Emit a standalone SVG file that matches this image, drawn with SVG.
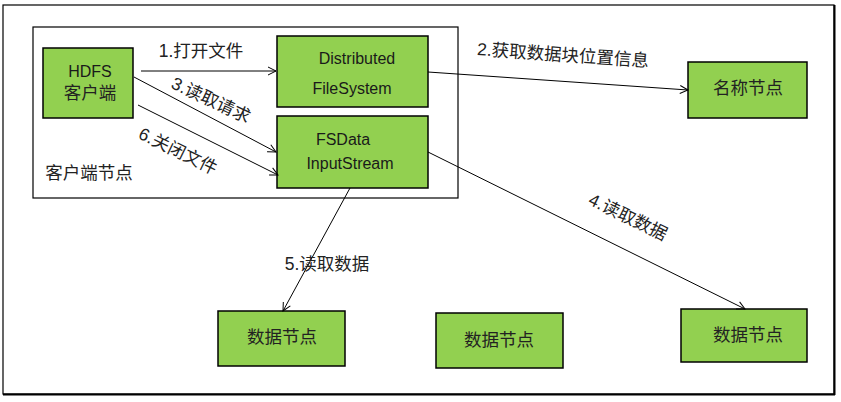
<svg xmlns="http://www.w3.org/2000/svg" width="841" height="402" viewBox="0 0 841 402">
<style>
.box{fill:#92D050;stroke:#000;stroke-width:1.5}
.frame{fill:none;stroke:#000;stroke-width:1.2}
.t{font-family:"Liberation Sans","Noto Sans CJK SC",sans-serif;font-size:16px;fill:#1a1a1a;text-anchor:middle;dominant-baseline:central}
.cj{font-family:"Liberation Sans","Noto Sans CJK SC",sans-serif;font-size:17.5px;fill:#222;text-anchor:middle;dominant-baseline:central}
.c{stroke:#000;stroke-width:1;fill:none;marker-end:url(#ah)}
</style>
<defs>
<marker id="ah" markerWidth="12" markerHeight="12" refX="9" refY="5" orient="auto" markerUnits="userSpaceOnUse">
<path d="M1,1 L9,5 L1,9" fill="none" stroke="#000" stroke-width="1"/>
</marker>
</defs>
<rect width="841" height="402" fill="#fff"/>
<rect x="3" y="5" width="831" height="389" fill="#fff" stroke="#000" stroke-width="1.2"/>
<line x1="834.5" y1="5" x2="834.5" y2="395" stroke="#000" stroke-width="2"/>
<line x1="3" y1="394.5" x2="835" y2="394.5" stroke="#000" stroke-width="2"/>
<g id="client-frame">
<rect class="frame" x="33" y="27" width="425" height="171"/>
<text class="cj" x="89" y="173">客户端节点</text>
</g>
<g id="hdfs-client">
<rect class="box" x="43" y="48" width="90" height="70"/>
<text class="t" x="90" y="71">HDFS</text>
<text class="cj" x="90" y="93">客户端</text>
</g>
<g id="dfs">
<rect class="box" x="277" y="36" width="151" height="71"/>
<text class="t" x="357" y="58">Distributed</text>
<text class="t" x="352" y="88">FileSystem</text>
</g>
<g id="fsdata">
<rect class="box" x="277" y="116" width="151" height="72"/>
<text class="t" x="343" y="139">FSData</text>
<text class="t" x="350" y="163">InputStream</text>
</g>
<g id="namenode">
<rect class="box" x="688" y="62" width="119" height="56"/>
<text class="cj" x="748" y="88">名称节点</text>
</g>
<g id="datanode1">
<rect class="box" x="218" y="311" width="127" height="55"/>
<text class="cj" x="282" y="337">数据节点</text>
</g>
<g id="datanode2">
<rect class="box" x="436" y="313" width="127" height="55"/>
<text class="cj" x="499" y="340">数据节点</text>
</g>
<g id="datanode3">
<rect class="box" x="681" y="309" width="126" height="53"/>
<text class="cj" x="748" y="335">数据节点</text>
</g>
<g id="connectors">
<line class="c" x1="141" y1="71" x2="276" y2="71"/>
<line class="c" x1="428" y1="72" x2="688" y2="90"/>
<line class="c" x1="134" y1="77" x2="276" y2="152"/>
<line class="c" x1="138" y1="105" x2="278" y2="175"/>
<line class="c" x1="428" y1="152" x2="745" y2="309"/>
<line class="c" x1="350" y1="188" x2="283" y2="311"/>
<text class="cj" x="201" y="51">1.打开文件</text>
<text class="cj" x="563" y="55" transform="rotate(4 563 55)">2.获取数据块位置信息</text>
<text class="cj" x="211" y="100" transform="rotate(25 211 100)">3.读取请求</text>
<text class="cj" x="628" y="217" transform="rotate(26 628 217)">4.读取数据</text>
<text class="cj" x="327" y="264">5.读取数据</text>
<text class="cj" x="178" y="151" transform="rotate(26 178 151)">6.关闭文件</text>
</g>
</svg>
